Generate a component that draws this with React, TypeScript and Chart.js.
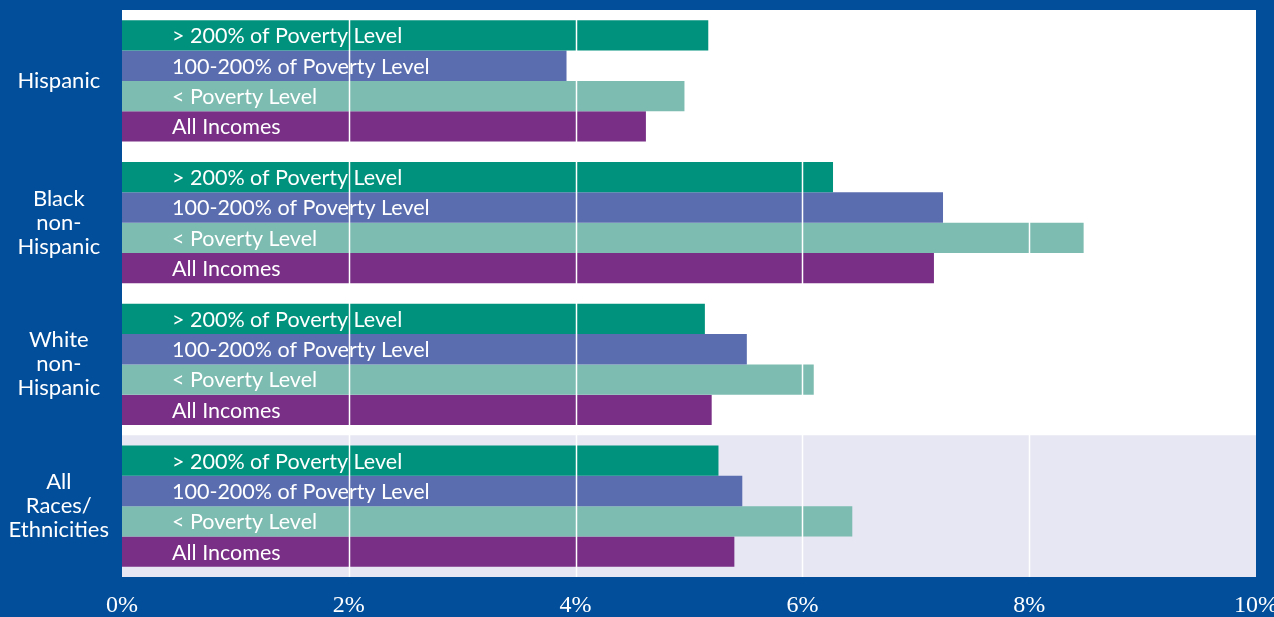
import React, { useEffect, useRef } from "react";
import { Chart, registerables } from "chart.js";

Chart.register(...registerables);

const categories: string[][] = [
  ["Hispanic"],
  ["Black", "non-", "Hispanic"],
  ["White", "non-", "Hispanic"],
  ["All", "Races/", "Ethnicities"],
];
const seriesLabels = [
  "> 200% of Poverty Level",
  "100-200% of Poverty Level",
  "< Poverty Level",
  "All Incomes",
];
const above200 = [5.17, 6.27, 5.14, 5.26];
const from100to200 = [3.92, 7.24, 5.51, 5.47];
const belowPoverty = [4.96, 8.48, 6.1, 6.44];
const allIncomes = [4.62, 7.16, 5.2, 5.4];
const xTicks = [0, 2, 4, 6, 8, 10];
const colors = ["#00927c", "#5a6eaf", "#7dbcb0", "#792f86"];

const BG_BLUE = "#034e9b";
const LAVENDER = "#e7e7f3";

const decorPlugin = {
  id: "decor",
  beforeDraw(chart: any) {
    const { ctx, chartArea, scales } = chart;
    ctx.save();
    ctx.fillStyle = BG_BLUE;
    ctx.fillRect(0, 0, chart.width, chart.height);
    ctx.fillStyle = "#ffffff";
    ctx.fillRect(chartArea.left, chartArea.top, chartArea.right - chartArea.left, chartArea.bottom - chartArea.top);
    const y = scales.y;
    const catH = (chartArea.bottom - chartArea.top) / categories.length;
    const yStart = y.getPixelForValue(3) - catH / 2;
    ctx.fillStyle = LAVENDER;
    ctx.fillRect(chartArea.left, yStart, chartArea.right - chartArea.left, chartArea.bottom - yStart);
    ctx.restore();
  },
  afterDatasetsDraw(chart: any) {
    const { ctx, chartArea, scales } = chart;
    const x = scales.x;
    ctx.save();
    ctx.fillStyle = "#ffffff";
    ctx.font = "21.5px Lato";
    ctx.textBaseline = "middle";
    ctx.textAlign = "left";
    chart.data.datasets.forEach((ds: any, di: number) => {
      const meta = chart.getDatasetMeta(di);
      meta.data.forEach((bar: any) => {
        ctx.fillText(ds.label, x.getPixelForValue(0) + 50, bar.y + 1);
      });
    });
    ctx.strokeStyle = "#ffffff";
    ctx.lineWidth = 1.5;
    [2, 4, 6, 8].forEach((v) => {
      const px = Math.round(x.getPixelForValue(v)) + 0.5;
      ctx.beginPath();
      ctx.moveTo(px, chartArea.top);
      ctx.lineTo(px, chartArea.bottom);
      ctx.stroke();
    });
    ctx.restore();
  },
};

export default function App() {
  const ref = useRef<HTMLCanvasElement>(null);
  useEffect(() => {
    document.body.style.margin = "0";
    document.body.style.background = BG_BLUE;
    const series = [above200, from100to200, belowPoverty, allIncomes];
    const chart = new Chart(ref.current!, {
      type: "bar",
      data: {
        labels: categories,
        datasets: series.map((d, i) => ({
          label: seriesLabels[i],
          data: d,
          backgroundColor: colors[i],
          borderWidth: 0,
          barPercentage: 1,
          categoryPercentage: 0.855,
        })),
      },
      options: {
        indexAxis: "y",
        animation: false,
        responsive: false,
        maintainAspectRatio: false,
        layout: { padding: { left: 0, top: 10, right: 18, bottom: 0 } },
        plugins: { legend: { display: false }, tooltip: { enabled: false } },
        scales: {
          x: {
            type: "linear",
            min: 0,
            max: 10,
            afterBuildTicks: (scale: any) => {
              scale.ticks = xTicks.map((v) => ({ value: v }));
            },
            afterFit: (scale: any) => {
              scale.height = 40;
              scale.paddingLeft = 0;
              scale.paddingRight = 0;
            },
            grid: { display: false, drawTicks: false },
            border: { display: false },
            ticks: {
              color: "#ffffff",
              padding: 14,
              maxRotation: 0,
              autoSkip: false,
              font: { family: "'Liberation Serif', serif", size: 24 },
              callback: (v: any) => v + "%",
            },
          },
          y: {
            type: "category",
            afterFit: (scale: any) => {
              scale.width = 122;
              scale.paddingTop = 0;
              scale.paddingBottom = 0;
            },
            grid: { display: false, drawTicks: false },
            border: { display: false },
            ticks: {
              color: "#ffffff",
              crossAlign: "center",
              padding: 13,
              font: { family: "Lato", size: 22, lineHeight: "24px" },
            },
          },
        },
      },
      plugins: [decorPlugin],
    });
    return () => chart.destroy();
  }, []);
  return (
    <div style={{ width: 1274, height: 617 }}>
      <canvas ref={ref} width={1274} height={617} style={{ display: "block" }} />
    </div>
  );
}
